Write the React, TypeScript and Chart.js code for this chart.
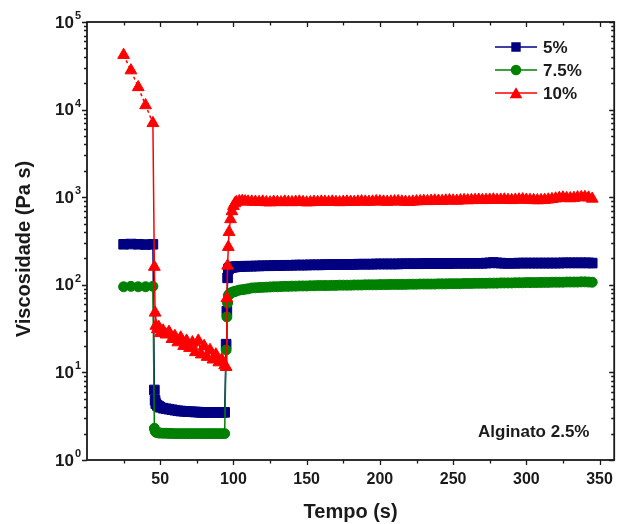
import React, { useEffect, useRef } from 'react';
import { Chart, registerables } from 'chart.js';
import { drawPoint } from 'chart.js/helpers';

Chart.register(...registerables);

// time (s), shared by all three series
const tempo = [
  25, 30, 35, 40, 45,
  46, 46.5, 47, 48, 49, 50, 52, 54, 56, 58, 60, 62, 64, 66, 68, 70, 72, 74, 76, 78, 80, 82, 84, 86, 88, 90, 92, 94,
  95, 95.5, 96, 96.5, 97, 98, 99, 100, 101, 102, 104, 106, 108, 110,
  112.5, 115, 117.5, 120, 122.5, 125, 127.5, 130, 132.5, 135,
  137.5, 140, 142.5, 145, 147.5, 150, 152.5, 155, 157.5, 160,
  162.5, 165, 167.5, 170, 172.5, 175, 177.5, 180, 182.5, 185,
  187.5, 190, 192.5, 195, 197.5, 200, 202.5, 205, 207.5, 210,
  212.5, 215, 217.5, 220, 222.5, 225, 227.5, 230, 232.5, 235,
  237.5, 240, 242.5, 245, 247.5, 250, 252.5, 255, 257.5, 260,
  262.5, 265, 267.5, 270, 272.5, 275, 277.5, 280, 282.5, 285,
  287.5, 290, 292.5, 295, 297.5, 300, 302.5, 305, 307.5, 310,
  312.5, 315, 317.5, 320, 322.5, 325, 327.5, 330, 332.5, 335,
  337.5, 340, 342.5, 345,
];

// viscosity (Pa s) for 5 %
const visc5 = [
  290, 292, 290, 288, 290,
  6.3, 4.8, 4.4, 4.2, 4.1, 4.0, 3.9, 3.85, 3.8, 3.75, 3.7, 3.65, 3.62, 3.6, 3.58, 3.56, 3.55, 3.53, 3.52, 3.5, 3.5, 3.5, 3.5, 3.5, 3.5, 3.5, 3.5, 3.5,
  21, 50, 120, 150, 155, 157, 158, 160, 160, 161, 162, 162, 163, 163,
  163, 164, 164, 165, 165, 165, 166, 166, 166, 167,
  167, 167, 168, 168, 168, 168, 169, 169, 169, 169,
  170, 170, 170, 170, 171, 171, 171, 171, 171, 172,
  172, 172, 172, 172, 173, 173, 173, 173, 173, 173,
  173, 174, 174, 174, 174, 174, 174, 175, 175, 175,
  175, 175, 175, 175, 175, 176, 176, 176, 176, 176,
  176, 176, 176, 176, 177, 178, 180, 178, 177, 176,
  176, 176, 176, 177, 177, 177, 177, 177, 177, 177,
  177, 177, 177, 177, 177, 178, 178, 178, 178, 178,
  178, 178, 178, 177,
];

// viscosity (Pa s) for 7.5 %
const visc75 = [
  95, 96, 95, 95, 96,
  2.3, 2.15, 2.08, 2.05, 2.04, 2.03, 2.02, 2.02, 2.01, 2.01, 2.0, 2.0, 2.0, 2.0, 2.0, 2.0, 2.0, 2.0, 2.0, 2.0, 2.0, 2.0, 2.0, 2.0, 2.0, 2.0, 2.0, 2.0,
  18, 43, 62, 75, 78, 80, 82, 83, 84, 85, 87, 88, 89, 90,
  92, 92.5, 93, 93.5, 94, 94.5, 95, 95, 95.5, 96,
  96, 96.5, 96.5, 97, 97, 97, 97.5, 97.5, 98, 98,
  98, 98, 98.5, 98.5, 99, 99, 99, 99, 99.5, 99.5,
  99.5, 100, 100, 100, 100, 100.5, 100.5, 100.5, 101, 101,
  101, 101, 101, 101.5, 101.5, 101.5, 102, 102, 102, 102,
  102, 102.5, 102.5, 102.5, 103, 103, 103, 103, 103.5, 103.5,
  103.5, 104, 104, 104, 104, 104.5, 104.5, 104.5, 105, 105,
  105, 105, 105.5, 105.5, 105.5, 106, 106, 106, 106, 106.5,
  106.5, 106.5, 107, 107, 107, 107, 107.5, 107.5, 107.5, 107.5,
  108, 108, 107.5, 107,
];

// viscosity (Pa s) for 10 %
const visc10 = [
  42000, 28000, 18000, 11200, 7000,
  160, 48, 34, 31, 33, 28, 30, 27, 29, 24, 26, 22, 25, 20, 23, 19, 22, 17, 23, 16, 20, 15, 18, 14, 16, 13, 14, 12,
  11.5, 70, 165, 270, 400, 560, 690, 790, 850, 880, 900, 905, 895, 890,
  890, 885, 880, 890, 875, 870, 885, 880, 875, 890,
  880, 875, 885, 890, 880, 870, 875, 885, 880, 890,
  885, 880, 890, 880, 875, 885, 890, 885, 880, 890,
  895, 890, 885, 890, 900, 895, 890, 885, 890, 895,
  900, 890, 885, 880, 890, 895, 900, 905, 900, 910,
  915, 910, 905, 915, 920, 915, 910, 920, 925, 920,
  925, 930, 935, 925, 930, 935, 940, 930, 935, 940,
  930, 925, 935, 940, 945, 935, 930, 925, 920, 925,
  930, 940, 950, 965, 980, 990, 975, 970, 980, 995,
  1000, 1005, 990, 960,
];

const seriesLabels = ['5%', '7.5%', '10%'];
const xTickValues = [25, 50, 75, 100, 125, 150, 175, 200, 225, 250, 275, 300, 325, 350];
const xTickLabels = ['50', '100', '150', '200', '250', '300', '350'];
const yExponents = [0, 1, 2, 3, 4, 5];
const xTitle = 'Tempo (s)';
const yTitle = 'Viscosidade (Pa s)';
const annotation = 'Alginato 2.5%';

const BLUE = '#000080';
const GREEN = '#008000';
const RED = '#FF0000';
const FONT = '"Liberation Sans", Arial, sans-serif';

const decorPlugin = {
  id: 'decor',
  afterDraw(chart: any) {
    const ctx = chart.ctx;
    const { left, right, top, bottom } = chart.chartArea;
    const xs = chart.scales.x;
    const ys = chart.scales.y;
    ctx.save();
    ctx.strokeStyle = '#1a1a1a';
    ctx.lineWidth = 1.8;
    ctx.strokeRect(left, top, right - left, bottom - top);

    ctx.lineWidth = 1.3;
    // x ticks
    xTickValues.forEach((v) => {
      const px = Math.round(xs.getPixelForValue(v)) + 0.5;
      const major = v % 50 === 0;
      const len = major ? 5 : 3.5;
      ctx.beginPath();
      ctx.moveTo(px, bottom);
      ctx.lineTo(px, bottom + len);
      ctx.moveTo(px, top);
      ctx.lineTo(px, top + len);
      ctx.stroke();
    });
    // y ticks
    yExponents.forEach((e) => {
      for (let m = 1; m <= 9; m++) {
        if (e === 5 && m > 1) break;
        const v = m * Math.pow(10, e);
        const py = Math.round(ys.getPixelForValue(v)) + 0.5;
        const len = m === 1 ? 5 : 3;
        ctx.beginPath();
        ctx.moveTo(left - len, py);
        ctx.lineTo(left, py);
        ctx.moveTo(right - len, py);
        ctx.lineTo(right, py);
        ctx.stroke();
      }
    });

    ctx.fillStyle = '#1a1a1a';
    // x labels
    ctx.font = `bold 16px ${FONT}`;
    ctx.textAlign = 'center';
    ctx.textBaseline = 'middle';
    xTickLabels.forEach((t) => {
      const px = xs.getPixelForValue(Number(t));
      ctx.fillText(t, px, bottom + 20);
    });
    // y labels with superscript
    yExponents.forEach((e) => {
      const py = ys.getPixelForValue(Math.pow(10, e));
      ctx.font = `bold 17px ${FONT}`;
      ctx.textAlign = 'right';
      ctx.textBaseline = 'middle';
      ctx.fillText('10', 74, py + 1);
      ctx.font = `bold 11px ${FONT}`;
      ctx.textAlign = 'left';
      ctx.fillText(String(e), 75, py - 6);
    });

    // axis titles
    ctx.font = `bold 20px ${FONT}`;
    ctx.textAlign = 'center';
    ctx.textBaseline = 'middle';
    ctx.fillText(xTitle, (left + right) / 2, 512);
    ctx.save();
    ctx.translate(24, (top + bottom) / 2 + 8);
    ctx.rotate(-Math.PI / 2);
    ctx.fillText(yTitle, 0, 0);
    ctx.restore();

    // annotation
    ctx.font = `bold 17px ${FONT}`;
    ctx.textAlign = 'left';
    ctx.fillText(annotation, 478, 432);

    // legend
    const ds = chart.data.datasets;
    const order = [2, 1, 0];
    const legendRadius = [5.6, 4.5, 5.8];
    order.forEach((di, row) => {
      const d = ds[di];
      const y = 47 + row * 23;
      ctx.strokeStyle = d.borderColor;
      ctx.lineWidth = 1.5;
      ctx.beginPath();
      ctx.moveTo(495, y);
      ctx.lineTo(537, y);
      ctx.stroke();
      ctx.fillStyle = d.backgroundColor;
      drawPoint(ctx, { pointStyle: d.pointStyle, radius: legendRadius[row], borderWidth: 1, rotation: 0 }, 516, y + (d.pointStyle === 'triangle' ? 1.5 : 0));
      ctx.fillStyle = '#1a1a1a';
      ctx.font = `bold 17px ${FONT}`;
      ctx.textAlign = 'left';
      ctx.textBaseline = 'middle';
      ctx.fillText(d.label, 543, y + 1);
    });
    ctx.restore();
  },
};

export default function App() {
  const ref = useRef<HTMLCanvasElement | null>(null);
  useEffect(() => {
    if (!ref.current) return;
    const mk = (vals: number[]) => tempo.map((t, i) => ({ x: t, y: vals[i] }));
    const chart = new Chart(ref.current, {
      type: 'line',
      data: {
        datasets: [
          {
            label: seriesLabels[2],
            data: mk(visc10),
            borderColor: RED,
            backgroundColor: RED,
            pointStyle: 'triangle',
            pointRadius: 6.8,
            pointBorderWidth: 1,
            borderWidth: 1.5,
            segment: {
              borderDash: (c: any) => (c.p1DataIndex <= 4 ? [3, 3] : undefined),
            },
          },
          {
            label: seriesLabels[1],
            data: mk(visc75),
            borderColor: GREEN,
            backgroundColor: GREEN,
            pointStyle: 'circle',
            pointRadius: 5,
            pointBorderWidth: 1,
            borderWidth: 1.5,
          },
          {
            label: seriesLabels[0],
            data: mk(visc5),
            borderColor: BLUE,
            backgroundColor: BLUE,
            pointStyle: 'rect',
            pointRadius: 6.8,
            pointBorderWidth: 1,
            borderWidth: 1.5,
          },
        ],
      },
      options: {
        responsive: false,
        animation: false,
        devicePixelRatio: 1,
        layout: { padding: { left: 87, right: 4, top: 22, bottom: 64 } },
        plugins: { legend: { display: false }, tooltip: { enabled: false } },
        scales: {
          x: { type: 'linear', min: 0, max: 360, display: false },
          y: { type: 'logarithmic', min: 1, max: 100000, display: false },
        },
      },
      plugins: [decorPlugin],
    } as any);
    return () => chart.destroy();
  }, []);
  return (
    <div style={{ position: 'fixed', left: 0, top: 0, width: 622, height: 524, background: '#fff' }}>
      <canvas ref={ref} width={622} height={524} />
    </div>
  );
}
